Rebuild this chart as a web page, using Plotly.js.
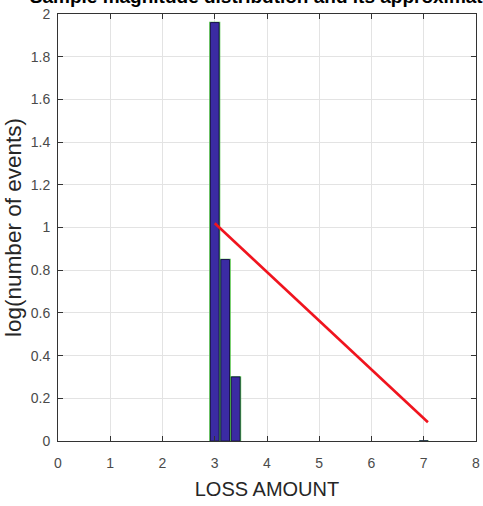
<!DOCTYPE html>
<html>
<head>
<meta charset="utf-8">
<script src="https://cdn.plot.ly/plotly-3.0.1.min.js"></script>
<style>
  html, body { margin: 0; padding: 0; background: #ffffff; }
  #chart { width: 483px; height: 506px; }
</style>
</head>
<body>
<div id="chart"></div>
<script>
// Magnitude bins (loss amount) and log10 of event counts per bin
const binCenters = [3.0, 3.2, 3.4, 7.0];
const logCounts = [1.96, 0.85, 0.30, 0.0];

// Linear approximation of the distribution (end points)
const fitX = [3.0, 7.08];
const fitY = [1.02, 0.088];

const xTicks = [0, 1, 2, 3, 4, 5, 6, 7, 8];
const yTicks = [0, 0.2, 0.4, 0.6, 0.8, 1, 1.2, 1.4, 1.6, 1.8, 2];

const sans = 'Liberation Sans, Arial, sans-serif';
const tickFont = { family: sans, size: 14, color: '#4a4a4a' };

const traces = [
  {
    // green outline drawn slightly wider behind the bars
    type: 'bar',
    x: binCenters,
    y: logCounts,
    width: 0.185,
    marker: { color: 'rgba(0,0,0,0)', line: { color: '#4cc040', width: 1.4 } },
    hoverinfo: 'skip',
    showlegend: false
  },
  {
    type: 'bar',
    x: binCenters,
    y: logCounts,
    width: 0.165,
    marker: { color: '#3b2ba3', line: { color: '#1c1650', width: 1 } },
    showlegend: false
  },
  {
    type: 'scatter',
    mode: 'lines',
    x: fitX,
    y: fitY,
    line: { color: '#f0141e', width: 2.6 },
    showlegend: false
  }
];

const layout = {
  width: 483,
  height: 506,
  margin: { l: 58, r: 7, t: 14, b: 65 },
  paper_bgcolor: '#ffffff',
  plot_bgcolor: '#ffffff',
  barmode: 'overlay',
  title: {
    text: 'Sample magnitude distribution and its approximation',
    font: { family: sans, size: 19, color: '#000000', weight: 'bold' },
    x: 0.56,
    xanchor: 'center',
    xref: 'container',
    yref: 'container',
    y: 0.995,
    yanchor: 'bottom'
  },
  xaxis: {
    range: [0, 8],
    tickvals: xTicks,
    ticktext: xTicks.map(String),
    ticks: 'inside',
    ticklen: 5,
    tickcolor: '#333333',
    ticklabelstandoff: 9,
    showgrid: true,
    gridcolor: '#e3e3e3',
    gridwidth: 1,
    zeroline: false,
    showline: true,
    linecolor: '#333333',
    linewidth: 1,
    mirror: 'ticks',
    tickfont: tickFont,
    title: {
      text: 'LOSS AMOUNT',
      font: { family: sans, size: 20, color: '#262626' },
      standoff: 12
    }
  },
  yaxis: {
    range: [0, 2],
    tickvals: yTicks,
    ticktext: yTicks.map(String),
    ticks: 'inside',
    ticklen: 5,
    tickcolor: '#333333',
    ticklabelstandoff: 4,
    showgrid: true,
    gridcolor: '#e3e3e3',
    gridwidth: 1,
    zeroline: false,
    showline: true,
    linecolor: '#333333',
    linewidth: 1,
    mirror: 'ticks',
    tickfont: tickFont,
    title: {
      text: 'log(number of events)',
      font: { family: sans, size: 22.5, color: '#262626' },
      standoff: 2
    }
  }
};

Plotly.newPlot('chart', traces, layout, { displayModeBar: false, staticPlot: true });
</script>
</body>
</html>
